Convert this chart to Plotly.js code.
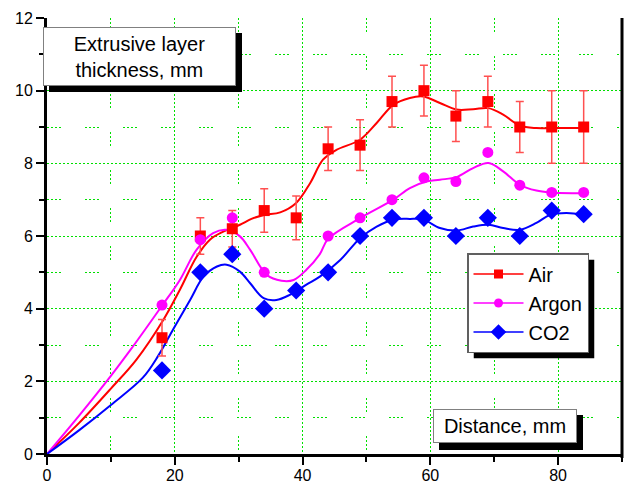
<!DOCTYPE html>
<html>
<head>
<meta charset="utf-8">
<script src="https://cdn.plot.ly/plotly-3.0.1.min.js"></script>
<style>html,body{margin:0;padding:0;background:#fff;}#chart{width:625px;height:483px;}</style>
</head>
<body>
<div id="chart"></div>
<script>
// Measured data points
var airX = [18,24,29,34,39,44,49,54,59,64,69,74,79,84];
var airY = [3.2,6.0,6.2,6.7,6.5,8.4,8.5,9.7,10.0,9.3,9.7,9.0,9.0,9.0];
var airErr = [0.5,0.5,0.5,0.6,0.6,0.6,0.7,0.7,0.7,0.7,0.7,0.7,1.0,1.0];
var argonX = [18,24,29,34,44,49,54,59,64,69,74,79,84];
var argonY = [4.1,5.9,6.5,5.0,6.0,6.5,7.0,7.6,7.5,8.3,7.4,7.2,7.2];
var co2X = [18,24,29,34,39,44,49,54,59,64,69,74,79,84];
var co2Y = [2.3,5.0,5.5,4.0,4.5,5.0,6.0,6.5,6.5,6.0,6.5,6.0,6.7,6.6];

// Smoothed fit curves
var airCurveX = [0,5,10,14,18.2,20.8,23.4,25.5,27.6,30.2,32,34,36.5,39,41.2,43.2,45.3,49,51.6,54.2,56.8,58.9,61.5,64.1,66.7,69.1,71.4,74,76.6,79,84];
var airCurveY = [0,0.85,1.8,2.6,3.69,4.52,5.42,5.90,6.12,6.31,6.47,6.58,6.65,6.91,7.46,8.10,8.37,8.65,9.11,9.61,9.80,9.84,9.66,9.48,9.49,9.52,9.34,9.04,8.97,8.97,8.97];
var argonCurveX = [0,5,10,13,18,20.8,23.4,26,28.1,30.2,31.8,34.4,36.7,38.6,40.6,42.7,44,49,54.2,56.8,59.4,61.5,64.1,66.7,69.1,71.4,74,76.6,78.7,84];
var argonCurveY = [0,1.05,2.15,2.85,4.08,4.79,5.62,6.08,6.17,5.99,5.62,4.93,4.77,4.79,5.07,5.5,5.92,6.49,7.0,7.32,7.5,7.55,7.62,7.87,8.01,7.78,7.41,7.25,7.2,7.18];
var co2CurveX = [0,5,10,15,17.4,19.8,22.4,24.5,26.6,28.1,30.2,31.8,33.9,35.9,38,40.6,42.7,45.9,49,51.6,54.2,56.8,58.9,61.5,64.1,66.7,69.1,71.4,74,76.6,78.7,81.3,84];
var co2CurveY = [0,0.65,1.35,2.1,2.7,3.45,4.24,4.88,5.16,5.21,5.02,4.70,4.29,4.24,4.38,4.66,4.88,5.34,5.94,6.26,6.45,6.47,6.45,6.22,6.15,6.26,6.31,6.22,6.17,6.36,6.58,6.63,6.58];

var seriesNames = ['Air','Argon','CO2'];
var colors = ['#ff0000','#ff00ff','#0000ff'];
var symbols = ['square','circle','diamond'];
var sizes = [11,11,14];

var FONT = 'Liberation Sans, Arial, sans-serif';

var traces = [
  {x: airCurveX, y: airCurveY, mode:'lines', line:{color:colors[0], width:2, shape:'spline', smoothing:1}, showlegend:false, hoverinfo:'skip'},
  {x: argonCurveX, y: argonCurveY, mode:'lines', line:{color:colors[1], width:2, shape:'spline', smoothing:1}, showlegend:false, hoverinfo:'skip'},
  {x: co2CurveX, y: co2CurveY, mode:'lines', line:{color:colors[2], width:2, shape:'spline', smoothing:1}, showlegend:false, hoverinfo:'skip'},
  {x: airX, y: airY, mode:'markers', marker:{symbol:symbols[0], size:sizes[0], color:colors[0]}, showlegend:false,
   error_y:{type:'data', array: airErr, visible:true, color:'#ff5050', thickness:1.5, width:4}},
  {x: argonX, y: argonY, mode:'markers', marker:{symbol:symbols[1], size:sizes[1], color:colors[1]}, showlegend:false},
  {x: co2X, y: co2Y, mode:'markers', marker:{symbol:symbols[2], size:sizes[2], color:colors[2]}, showlegend:false}
];
var legSizes = [9,9,12];
for (var i=0;i<3;i++){
  traces.push({x:[null], y:[null], name: seriesNames[i], mode:'lines+markers',
    line:{color:colors[i], width:1.5}, marker:{symbol:symbols[i], size:legSizes[i], color:colors[i]}, showlegend:true});
}

// pixel -> paper helpers (plot area: x 47..622, y 18..454)
var L=47, R=622, T=18, B=454;
function px(v){ return (v-L)/(R-L); }
function py(v){ return (B-v)/(B-T); }
function shadowRect(x0,y0,x1,y1){
  return {type:'rect', xref:'paper', yref:'paper', x0:px(x0), x1:px(x1), y0:py(y0), y1:py(y1),
          fillcolor:'#000', line:{width:0}, layer:'above'};
}

var layout = {
  width:625, height:483,
  margin:{l:L, r:625-R, t:T, b:483-B},
  paper_bgcolor:'#fff', plot_bgcolor:'#fff',
  font:{family:FONT, color:'#000', size:16},
  showlegend:true,
  legend:{x:px(467), y:py(253), xanchor:'left', yanchor:'top', bgcolor:'#fff', bordercolor:'#606060', borderwidth:1.5,
          font:{family:FONT, size:20, color:'#000'}, itemwidth:50, tracegroupgap:0},
  xaxis:{range:[0,90], dtick:20, tick0:0, showgrid:true, gridcolor:'#00e000', gridwidth:1, griddash:'2px,2px',
         zeroline:false, showline:true, linecolor:'#000', linewidth:3, ticks:'outside', ticklen:8, tickwidth:2, tickcolor:'#000',
         tickfont:{family:FONT, size:16, color:'#000'}, ticklabelstandoff:-3,
         minor:{dtick:10, tick0:0, ticks:'outside', ticklen:5, tickwidth:2, tickcolor:'#000', showgrid:true, gridcolor:'#00e000', gridwidth:1,
                griddash:'2px,2px,2px,2px,2px,2px,2px,24px'}},
  yaxis:{range:[0,12], dtick:2, tick0:0, showgrid:true, gridcolor:'#00e000', gridwidth:1, griddash:'2px,2px',
         zeroline:false, showline:true, linecolor:'#000', linewidth:3, ticks:'outside', ticklen:8, tickwidth:2, tickcolor:'#000',
         tickfont:{family:FONT, size:16, color:'#000'},
         minor:{dtick:1, tick0:0, ticks:'outside', ticklen:5, tickwidth:2, tickcolor:'#000', showgrid:true, gridcolor:'#00e000', gridwidth:1,
                griddash:'2px,2px,2px,2px,2px,2px,2px,24px'}},
  shapes:[
    {type:'line', xref:'paper', yref:'paper', x0:1, x1:1, y0:py(458), y1:1, line:{color:'#000', width:3}, layer:'above'},
    shadowRect(49,33,242,92),
    shadowRect(439,415,583,450),
    shadowRect(473,265,604,349)
  ],
  annotations:[
    {xref:'paper', yref:'paper', x:px(139.5), y:py(56.5), xanchor:'center', yanchor:'middle',
     text:'Extrusive layer<br>thickness, mm', showarrow:false, align:'center',
     font:{family:FONT, size:20, color:'#000'}, bgcolor:'#fff', bordercolor:'#808080', borderwidth:1,
     width:189, height:55, borderpad:1},
    {xref:'paper', yref:'paper', x:px(505), y:py(426), xanchor:'center', yanchor:'middle',
     text:'Distance, mm', showarrow:false, align:'center',
     font:{family:FONT, size:20, color:'#000'}, bgcolor:'#fff', bordercolor:'#808080', borderwidth:1,
     width:140, height:30, borderpad:1}
  ]
};

Plotly.newPlot('chart', traces, layout, {staticPlot:true, displayModeBar:false}).then(function(gd){
  var bg = gd.querySelector('.legend .bg');
  if (!bg) return;
  var r = bg.getBoundingClientRect();
  var c = gd.getBoundingClientRect();
  var x0 = r.left - c.left, y0 = r.top - c.top;
  return Plotly.relayout(gd, {
    'shapes[3].x0': px(x0 + 6), 'shapes[3].x1': px(x0 + r.width + 6),
    'shapes[3].y0': py(y0 + 6), 'shapes[3].y1': py(y0 + r.height + 6)
  });
});
</script>
</body>
</html>
